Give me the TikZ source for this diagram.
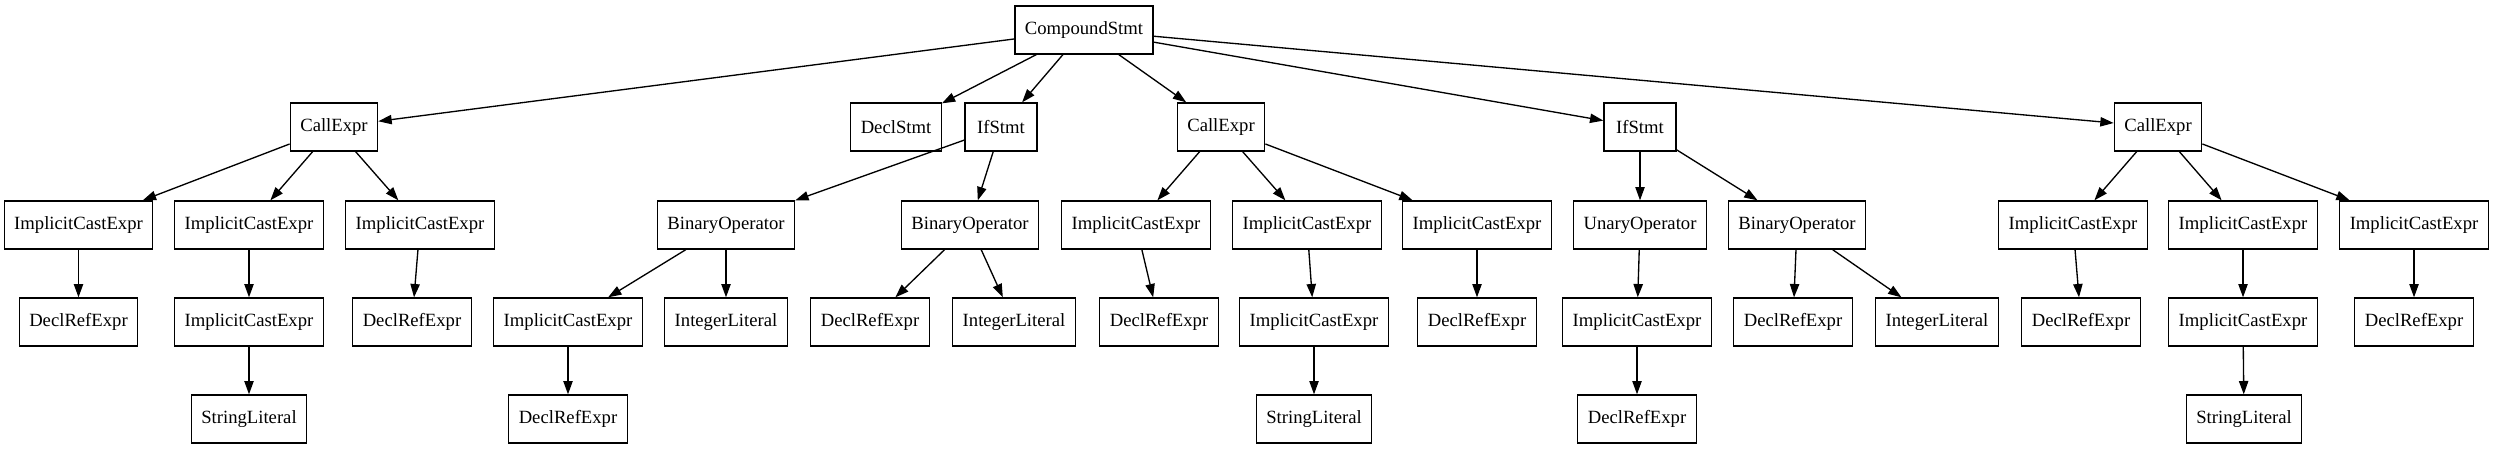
\documentclass[tikz,border=0pt]{standalone}
\usepackage{fontspec}
\setmainfont{Liberation Serif}
\usepackage{tikz}
\usetikzlibrary{arrows.meta}
\tikzset{
  ast/.style={rectangle, draw, line width=1pt, align=center,
              minimum height=36pt, minimum width=54pt, inner xsep=7.5pt,
              font=\fontsize{14pt}{16pt}\selectfont},
  arr/.style={-{Triangle[length=10pt, width=7pt]}, line width=1pt},
}
\begin{document}
\begin{tikzpicture}[x=0.75pt, y=-0.75pt]
  \useasboundingbox[fill=white] (0,0) rectangle (2493,449);
  % root
  \node[ast] (root) at (1084,30) {CompoundStmt};
  % level 1
  \node[ast] (call1) at (334,127)  {CallExpr};
  \node[ast] (decl)  at (896,127)  {DeclStmt};
  \node[ast] (if1)   at (1001,127) {IfStmt};
  \node[ast] (call2) at (1221,127) {CallExpr};
  \node[ast] (if2)   at (1640,127) {IfStmt};
  \node[ast] (call3) at (2158,127) {CallExpr};
  % level 2
  \node[ast] (ice1a) at (78.5,225) {ImplicitCastExpr};
  \node[ast] (ice1b) at (249,225)  {ImplicitCastExpr};
  \node[ast] (ice1c) at (420,225)  {ImplicitCastExpr};
  \node[ast] (bin1)  at (726,225)  {BinaryOperator};
  \node[ast] (bin2)  at (970,225)  {BinaryOperator};
  \node[ast] (ice2a) at (1136,225) {ImplicitCastExpr};
  \node[ast] (ice2b) at (1307,225) {ImplicitCastExpr};
  \node[ast] (ice2c) at (1477,225) {ImplicitCastExpr};
  \node[ast] (unop)  at (1640,225) {UnaryOperator};
  \node[ast] (bin3)  at (1797,225) {BinaryOperator};
  \node[ast] (ice3a) at (2073,225) {ImplicitCastExpr};
  \node[ast] (ice3b) at (2243,225) {ImplicitCastExpr};
  \node[ast] (ice3c) at (2414,225) {ImplicitCastExpr};
  % level 3
  \node[ast] (dre1a)  at (78.5,322) {DeclRefExpr};
  \node[ast] (ice1bb) at (249,322)  {ImplicitCastExpr};
  \node[ast] (dre1c)  at (412,322)  {DeclRefExpr};
  \node[ast] (iceb1)  at (568,322)  {ImplicitCastExpr};
  \node[ast] (int1)   at (726,322)  {IntegerLiteral};
  \node[ast] (dreb2)  at (870,322)  {DeclRefExpr};
  \node[ast] (int2)   at (1014,322) {IntegerLiteral};
  \node[ast] (dre2a)  at (1159,322) {DeclRefExpr};
  \node[ast] (ice2bb) at (1314,322) {ImplicitCastExpr};
  \node[ast] (dre2c)  at (1477,322) {DeclRefExpr};
  \node[ast] (iceu)   at (1637,322) {ImplicitCastExpr};
  \node[ast] (dreb3)  at (1793,322) {DeclRefExpr};
  \node[ast] (int3)   at (1937,322) {IntegerLiteral};
  \node[ast] (dre3a)  at (2081,322) {DeclRefExpr};
  \node[ast] (ice3bb) at (2243,322) {ImplicitCastExpr};
  \node[ast] (dre3c)  at (2414,322) {DeclRefExpr};
  % level 4
  \node[ast] (str1)  at (249,419)  {StringLiteral};
  \node[ast] (dreb1) at (568,419)  {DeclRefExpr};
  \node[ast] (str2)  at (1314,419) {StringLiteral};
  \node[ast] (dreu)  at (1637,419) {DeclRefExpr};
  \node[ast] (str3)  at (2244,419) {StringLiteral};
  % edges
  \draw[arr] (root) -- (call1);
  \draw[arr] (root) -- (decl);
  \draw[arr] (root) -- (if1);
  \draw[arr] (root) -- (call2);
  \draw[arr] (root) -- (if2);
  \draw[arr] (root) -- (call3);
  \draw[arr] (call1) -- (ice1a);
  \draw[arr] (call1) -- (ice1b);
  \draw[arr] (call1) -- (ice1c);
  \draw[arr] (ice1a) -- (dre1a);
  \draw[arr] (ice1b) -- (ice1bb);
  \draw[arr] (ice1bb) -- (str1);
  \draw[arr] (ice1c) -- (dre1c);
  \draw[arr] (if1) -- (bin1);
  \draw[arr] (if1) -- (bin2);
  \draw[arr] (bin1) -- (iceb1);
  \draw[arr] (bin1) -- (int1);
  \draw[arr] (iceb1) -- (dreb1);
  \draw[arr] (bin2) -- (dreb2);
  \draw[arr] (bin2) -- (int2);
  \draw[arr] (call2) -- (ice2a);
  \draw[arr] (call2) -- (ice2b);
  \draw[arr] (call2) -- (ice2c);
  \draw[arr] (ice2a) -- (dre2a);
  \draw[arr] (ice2b) -- (ice2bb);
  \draw[arr] (ice2bb) -- (str2);
  \draw[arr] (ice2c) -- (dre2c);
  \draw[arr] (if2) -- (unop);
  \draw[arr] (if2) -- (bin3);
  \draw[arr] (unop) -- (iceu);
  \draw[arr] (iceu) -- (dreu);
  \draw[arr] (bin3) -- (dreb3);
  \draw[arr] (bin3) -- (int3);
  \draw[arr] (call3) -- (ice3a);
  \draw[arr] (call3) -- (ice3b);
  \draw[arr] (call3) -- (ice3c);
  \draw[arr] (ice3a) -- (dre3a);
  \draw[arr] (ice3b) -- (ice3bb);
  \draw[arr] (ice3bb) -- (str3);
  \draw[arr] (ice3c) -- (dre3c);
\end{tikzpicture}
\end{document}
